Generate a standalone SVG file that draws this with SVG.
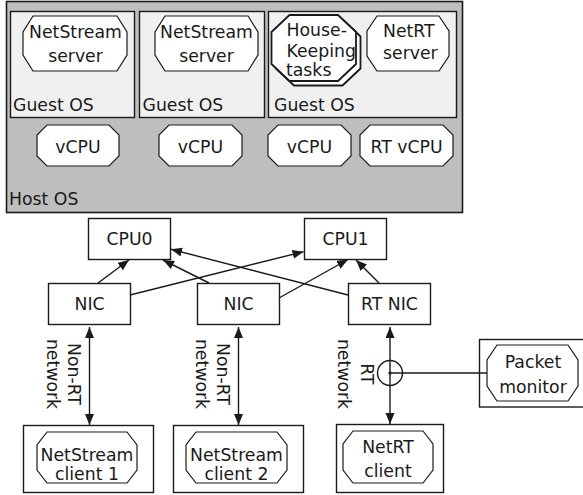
<svg xmlns="http://www.w3.org/2000/svg" width="583" height="495" viewBox="0 0 583 495">
  <style>
    text { font-family: "DejaVu Sans", "Liberation Sans", sans-serif; font-size: 17.3px; fill: #1a1a1a; }
    .mid { text-anchor: middle; }
    .box { fill: #ffffff; stroke: #1a1a1a; stroke-width: 1.4; }
    .host { fill: #bebebe; stroke: #1a1a1a; stroke-width: 1.6; }
    .guest { fill: #f0f0f0; stroke: #1a1a1a; stroke-width: 1.4; }
    .oct { fill: #ffffff; stroke: #1a1a1a; stroke-width: 1.2; }
    .oct2 { fill: #ffffff; stroke: #1a1a1a; stroke-width: 1.8; }
    .edge { fill: none; stroke: #1a1a1a; stroke-width: 1.4; }
  </style>
  <defs>
    <marker id="arrow" markerUnits="userSpaceOnUse" markerWidth="12" markerHeight="10" refX="11" refY="4.5" orient="auto-start-reverse">
      <path d="M0,0 L11,4.5 L0,9 z" fill="#1a1a1a"/>
    </marker>
  </defs>

  <!-- Host machine -->
  <g id="host-os">
    <rect class="host" x="6.5" y="1.5" width="456" height="211"/>
    <text x="9" y="205">Host OS</text>
  </g>

  <!-- Guest 1 -->
  <g id="guest-os-1">
    <rect class="guest" x="10.5" y="11.5" width="124" height="106"/>
    <text x="13" y="111">Guest OS</text>
  </g>
  <g id="netstream-server-1">
    <polygon class="oct" points="33,16 117,16 127,32 127,55 117,71 33,71 23,55 23,32"/>
    <text class="mid" x="75.5" y="37.5">NetStream</text>
    <text class="mid" x="75.5" y="61.5">server</text>
  </g>

  <!-- Guest 2 -->
  <g id="guest-os-2">
    <rect class="guest" x="139.5" y="11.5" width="125" height="106"/>
    <text x="142.5" y="111">Guest OS</text>
  </g>
  <g id="netstream-server-2">
    <polygon class="oct" points="165,16 248,16 258,32 258,55 248,71 165,71 155,55 155,32"/>
    <text class="mid" x="206.5" y="37.5">NetStream</text>
    <text class="mid" x="206.5" y="61.5">server</text>
  </g>

  <!-- Guest 3 -->
  <g id="guest-os-3">
    <rect class="guest" x="268.5" y="11.5" width="188" height="106"/>
    <text x="274" y="111">Guest OS</text>
  </g>
  <g id="housekeeping-tasks">
    <polygon class="oct2" points="294,19.5 342.5,19.5 360.5,36.5 360.5,68.5 342.5,85.5 294,85.5 276,68.5 276,36.5"/>
    <polygon class="oct2" points="289.5,15 338,15 356,32 356,64 338,81 289.5,81 271.5,64 271.5,32"/>
    <text x="286.5" y="36">House-</text>
    <text x="286.5" y="56.5">Keeping</text>
    <text x="286" y="76">tasks</text>
  </g>
  <g id="netrt-server">
    <polygon class="oct" points="377,16 439,16 449,31 449,56 439,71 377,71 367,56 367,31"/>
    <text x="383" y="36.5">NetRT</text>
    <text x="383" y="59">server</text>
  </g>

  <!-- Virtual CPUs -->
  <g id="vcpu-1">
    <polygon class="oct" points="47,125 109,125 119,135 119,156 109,166 47,166 37,156 37,135"/>
    <text class="mid" x="78" y="152.5">vCPU</text>
  </g>
  <g id="vcpu-2">
    <polygon class="oct" points="169,125 232,125 242,135 242,156 232,166 169,166 159,156 159,135"/>
    <text class="mid" x="200.5" y="152.5">vCPU</text>
  </g>
  <g id="vcpu-3">
    <polygon class="oct" points="278,125 341,125 351,135 351,156 341,166 278,166 268,156 268,135"/>
    <text class="mid" x="309.5" y="152.5">vCPU</text>
  </g>
  <g id="rt-vcpu">
    <polygon class="oct" points="370,125 443,125 453,135 453,156 443,166 370,166 360,156 360,135"/>
    <text class="mid" x="406.5" y="152.5">RT vCPU</text>
  </g>

  <!-- Physical CPUs -->
  <g id="cpu0">
    <rect class="box" x="88.5" y="218.5" width="82" height="41"/>
    <text class="mid" x="129.5" y="244.5">CPU0</text>
  </g>
  <g id="cpu1">
    <rect class="box" x="304.5" y="218.5" width="82" height="41"/>
    <text class="mid" x="345.5" y="244.5">CPU1</text>
  </g>

  <!-- Network interfaces -->
  <g id="nic-1">
    <rect class="box" x="48.5" y="283.5" width="82" height="41"/>
    <text class="mid" x="89.5" y="310">NIC</text>
  </g>
  <g id="nic-2">
    <rect class="box" x="197.5" y="283.5" width="82" height="41"/>
    <text class="mid" x="238.5" y="310">NIC</text>
  </g>
  <g id="rt-nic">
    <rect class="box" x="348.5" y="283.5" width="82" height="41"/>
    <text class="mid" x="389.5" y="310">RT NIC</text>
  </g>

  <!-- Clients -->
  <g id="netstream-client-1">
    <rect class="box" x="23.5" y="425.5" width="130" height="67"/>
    <polygon class="oct" points="47,432 127,432 137,445 137,470 127,483 47,483 37,470 37,445"/>
    <text class="mid" x="87" y="460.5">NetStream</text>
    <text class="mid" x="87" y="480">client 1</text>
  </g>
  <g id="netstream-client-2">
    <rect class="box" x="173.5" y="425.5" width="130" height="67"/>
    <polygon class="oct" points="196,432 277,432 287,445 287,470 277,483 196,483 186,470 186,445"/>
    <text class="mid" x="236.5" y="460.5">NetStream</text>
    <text class="mid" x="236.5" y="480">client 2</text>
  </g>
  <g id="netrt-client">
    <rect class="box" x="336.5" y="424.5" width="107" height="68"/>
    <polygon class="oct" points="353,431 423,431 433,444 433,470 423,483 353,483 343,470 343,444"/>
    <text class="mid" x="388" y="453">NetRT</text>
    <text class="mid" x="388" y="476.5">client</text>
  </g>

  <!-- Monitor -->
  <g id="packet-monitor">
    <rect class="box" x="479.5" y="339.5" width="110" height="67.5"/>
    <polygon class="oct" points="497,345 568,345 578,360 578,386 568,401 497,401 487,386 487,360"/>
    <text class="mid" x="533" y="368">Packet</text>
    <text class="mid" x="533" y="393">monitor</text>
  </g>

  <!-- Network labels -->
  <g id="network-labels">
    <g transform="translate(67.5,374) rotate(90)">
      <text class="mid" x="0" y="0">Non-RT</text>
      <text class="mid" x="0" y="21">network</text>
    </g>
    <g transform="translate(216.5,374) rotate(90)">
      <text class="mid" x="0" y="0">Non-RT</text>
      <text class="mid" x="0" y="21">network</text>
    </g>
    <g transform="translate(361,374) rotate(90)">
      <text class="mid" x="0" y="0">RT</text>
      <text class="mid" x="0" y="23.5">network</text>
    </g>
  </g>

  <!-- Connectors -->
  <g id="connectors">
    <line class="edge" x1="98" y1="283" x2="129" y2="260" marker-end="url(#arrow)"/>
    <line class="edge" x1="130" y1="295" x2="303.5" y2="251.7" marker-end="url(#arrow)"/>
    <line class="edge" x1="209" y1="283" x2="163" y2="260" marker-end="url(#arrow)"/>
    <line class="edge" x1="279" y1="298" x2="348" y2="259.5" marker-end="url(#arrow)"/>
    <line class="edge" x1="348" y1="295" x2="171" y2="249.3" marker-end="url(#arrow)"/>
    <line class="edge" x1="379" y1="283" x2="356" y2="260" marker-end="url(#arrow)"/>

    <line class="edge" x1="89.5" y1="327" x2="89.5" y2="425" marker-start="url(#arrow)" marker-end="url(#arrow)"/>
    <line class="edge" x1="238.5" y1="327" x2="238.5" y2="425" marker-start="url(#arrow)" marker-end="url(#arrow)"/>
    <line class="edge" x1="390" y1="327" x2="390" y2="424" marker-start="url(#arrow)" marker-end="url(#arrow)"/>

    <circle class="edge" cx="390" cy="373" r="12.5"/>
    <circle cx="390" cy="373" r="1.6" fill="#1a1a1a"/>
    <line class="edge" x1="390" y1="373" x2="487" y2="373" stroke-width="1.8"/>
  </g>
</svg>
